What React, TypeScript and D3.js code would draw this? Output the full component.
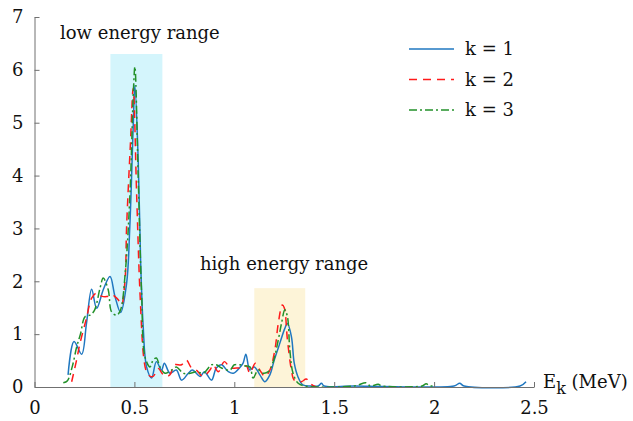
import React, { useEffect, useRef } from 'react';
import * as d3 from 'd3';

// k = 1 (solid blue)
const e1 = [0.168, 0.198, 0.236, 0.26, 0.286, 0.311, 0.345, 0.378, 0.403, 0.431, 0.461, 0.477, 0.494, 0.5025, 0.519, 0.531, 0.544, 0.561, 0.586, 0.61, 0.636, 0.65, 0.678, 0.71, 0.736, 0.77, 0.79, 0.83, 0.85, 0.886, 0.91, 0.936, 0.97, 0.995, 1.03, 1.044, 1.058, 1.078, 1.1, 1.128, 1.153, 1.178, 1.2, 1.228, 1.253, 1.266, 1.286, 1.3, 1.318, 1.343, 1.38, 1.42, 1.436, 1.45, 1.6, 2.1, 2.128, 2.15, 2.43, 2.46];
const v1 = [0.23, 0.86, 0.62, 1.2, 1.85, 1.49, 1.85, 2.09, 1.71, 1.41, 1.96, 3.03, 4.92, 5.71, 4.29, 2.4, 1.14, 0.38, 0.17, 0.48, 0.32, 0.45, 0.26, 0.32, 0.13, 0.26, 0.32, 0.2, 0.29, 0.13, 0.36, 0.42, 0.29, 0.26, 0.38, 0.45, 0.62, 0.32, 0.38, 0.23, 0.1, 0.23, 0.51, 0.83, 1.11, 1.2, 0.95, 0.45, 0.2, 0.04, 0.02, 0.02, 0.07, 0.02, 0.02, 0.02, 0.07, 0.02, 0.02, 0.1];

// k = 2 (dashed red)
const e2 = [0.186, 0.21, 0.228, 0.26, 0.286, 0.311, 0.335, 0.361, 0.385, 0.403, 0.419, 0.435, 0.453, 0.461, 0.48, 0.494, 0.511, 0.528, 0.548, 0.561, 0.58, 0.594, 0.62, 0.64, 0.66, 0.678, 0.7, 0.736, 0.76, 0.786, 0.81, 0.844, 0.878, 0.894, 0.92, 0.95, 0.98, 1.01, 1.044, 1.06, 1.078, 1.105, 1.128, 1.153, 1.178, 1.203, 1.22, 1.24, 1.25, 1.266, 1.286, 1.3, 1.336, 1.36, 1.385, 1.41];
const v2 = [0.1, 0.5, 0.83, 1.3, 1.68, 1.78, 1.72, 1.71, 1.75, 1.71, 1.65, 1.55, 2.02, 3.03, 4.6, 5.65, 3.67, 1.78, 0.51, 0.29, 0.2, 0.2, 0.35, 0.25, 0.2, 0.23, 0.42, 0.42, 0.51, 0.36, 0.32, 0.2, 0.32, 0.42, 0.29, 0.48, 0.36, 0.36, 0.36, 0.4, 0.26, 0.45, 0.32, 0.2, 0.32, 0.7, 1.2, 1.55, 1.5, 0.89, 0.32, 0.13, 0.1, 0.15, 0.05, 0.0];

// k = 3 (dash-dot green)
const e3 = [0.144, 0.165, 0.19, 0.211, 0.23, 0.253, 0.278, 0.3, 0.328, 0.344, 0.369, 0.386, 0.411, 0.43, 0.455, 0.478, 0.495, 0.5025, 0.519, 0.536, 0.553, 0.578, 0.594, 0.61, 0.628, 0.653, 0.686, 0.71, 0.745, 0.78, 0.81, 0.845, 0.886, 0.91, 0.936, 0.978, 1.0, 1.03, 1.05, 1.078, 1.094, 1.12, 1.145, 1.17, 1.195, 1.22, 1.236, 1.253, 1.266, 1.278, 1.294, 1.32, 1.35, 1.6, 1.66, 1.68, 1.72, 1.74, 1.94, 1.96, 1.98, 2.0];
const v3 = [0.08, 0.12, 0.4, 0.76, 1.0, 1.33, 1.36, 1.45, 1.87, 2.06, 1.84, 1.42, 1.36, 1.45, 2.2, 3.67, 5.6, 6.06, 3.98, 1.78, 0.57, 0.38, 0.51, 0.55, 0.38, 0.26, 0.32, 0.38, 0.26, 0.26, 0.29, 0.26, 0.42, 0.42, 0.36, 0.32, 0.42, 0.42, 0.4, 0.38, 0.17, 0.32, 0.26, 0.29, 0.48, 0.89, 1.2, 1.46, 1.33, 0.7, 0.26, 0.07, 0.02, 0.02, 0.08, 0.02, 0.05, 0.02, 0.02, 0.06, 0.02, 0.02];

const xTicks = [0, 0.5, 1, 1.5, 2, 2.5];
const xTickLabels = ['0', '0.5', '1', '1.5', '2', '2.5'];
const yTicks = [0, 1, 2, 3, 4, 5, 6, 7];

// shaded ranges: [start, end, top]
const lowRange = [0.38, 0.64, 6.3];
const highRange = [1.1, 1.355, 1.87];

const seriesNames = ['k = 1', 'k = 2', 'k = 3'];

export default function App() {
  const svgRef = useRef<SVGSVGElement>(null);

  useEffect(() => {
    const width = 633;
    const height = 421;
    const font = "'DejaVu Serif', 'Liberation Serif', serif";
    const axisColor = '#707070';

    const svg = d3.select(svgRef.current).attr('width', width).attr('height', height);
    svg.selectAll('*').remove();

    const x = d3.scaleLinear().domain([0, 2.5]).range([34.5, 534]);
    const y = d3.scaleLinear().domain([0, 7]).range([387, 17]);

    // Shaded ranges
    svg.append('rect').attr('x', x(lowRange[0])).attr('width', x(lowRange[1]) - x(lowRange[0]))
      .attr('y', y(lowRange[2])).attr('height', y(0) - y(lowRange[2])).attr('fill', '#d4f5fc');
    svg.append('rect').attr('x', x(highRange[0])).attr('width', x(highRange[1]) - x(highRange[0]))
      .attr('y', y(highRange[2])).attr('height', y(0) - y(highRange[2])).attr('fill', '#fdf4d8');

    // Series
    const styles = [
      { e: e1, v: v1, color: '#1f77c0', dash: null },
      { e: e2, v: v2, color: '#ff1a1a', dash: '8,6' },
      { e: e3, v: v3, color: '#23912a', dash: '8,3,2,3' },
    ];
    const line = d3.line<[number, number]>().x(d => x(d[0])).y(d => y(Math.max(0, d[1])))
      .curve(d3.curveCatmullRom.alpha(0.5));
    styles.forEach(s => {
      const pts = s.e.map((e, i) => [e, s.v[i]] as [number, number]);
      svg.append('path').datum(pts).attr('d', line).attr('fill', 'none')
        .attr('stroke', s.color).attr('stroke-width', 1.5)
        .attr('stroke-dasharray', s.dash);
    });

    // Axes
    const xAxis = svg.append('g').attr('transform', `translate(0,${y(0)})`)
      .call(d3.axisBottom(x).tickValues(xTicks).tickSize(-5).tickSizeOuter(0).tickFormat((d, i) => xTickLabels[i]));
    xAxis.select('.domain').attr('stroke', axisColor);
    xAxis.selectAll('line').attr('stroke', axisColor);
    xAxis.selectAll('text').style('font-family', font).style('font-size', '18px').attr('fill', '#111').attr('y', 14).attr('dy', '0.71em');

    const yAxis = svg.append('g').attr('transform', `translate(${x(0)},0)`)
      .call(d3.axisLeft(y).tickValues(yTicks).tickSize(-5).tickSizeOuter(0).tickFormat(d3.format('d')));
    yAxis.select('.domain').attr('stroke', axisColor);
    yAxis.selectAll('line').attr('stroke', axisColor);
    yAxis.selectAll('text').style('font-family', font).style('font-size', '18px').attr('fill', '#111').attr('x', -11);

    // Axis label
    const xl = svg.append('text').attr('x', 543).attr('y', 388).style('font-family', font)
      .style('font-size', '18px').attr('fill', '#111');
    xl.append('tspan').text('E');
    xl.append('tspan').attr('dy', 6).style('font-size', '16px').text('k');
    xl.append('tspan').attr('dy', -6).text(' (MeV)');

    // Annotations
    svg.append('text').attr('x', 60).attr('y', 39).style('font-family', font).style('font-size', '18px')
      .attr('fill', '#111').text('low energy range');
    svg.append('text').attr('x', 200).attr('y', 270).style('font-family', font).style('font-size', '18px')
      .attr('fill', '#111').text('high energy range');

    // Legend
    const legend = svg.append('g');
    styles.forEach((s, i) => {
      const ly = 49 + i * 30.5;
      legend.append('line').attr('x1', 409).attr('x2', 454).attr('y1', ly).attr('y2', ly)
        .attr('stroke', s.color).attr('stroke-width', 1.5).attr('stroke-dasharray', s.dash);
      legend.append('text').attr('x', 465).attr('y', ly).attr('dy', '0.35em').style('font-family', font)
        .style('font-size', '18px').attr('fill', '#111').text(seriesNames[i]);
    });
  }, []);

  return (
    <div style={{ position: 'absolute', left: 0, top: 0 }}>
      <svg ref={svgRef} style={{ display: 'block' }} />
    </div>
  );
}
